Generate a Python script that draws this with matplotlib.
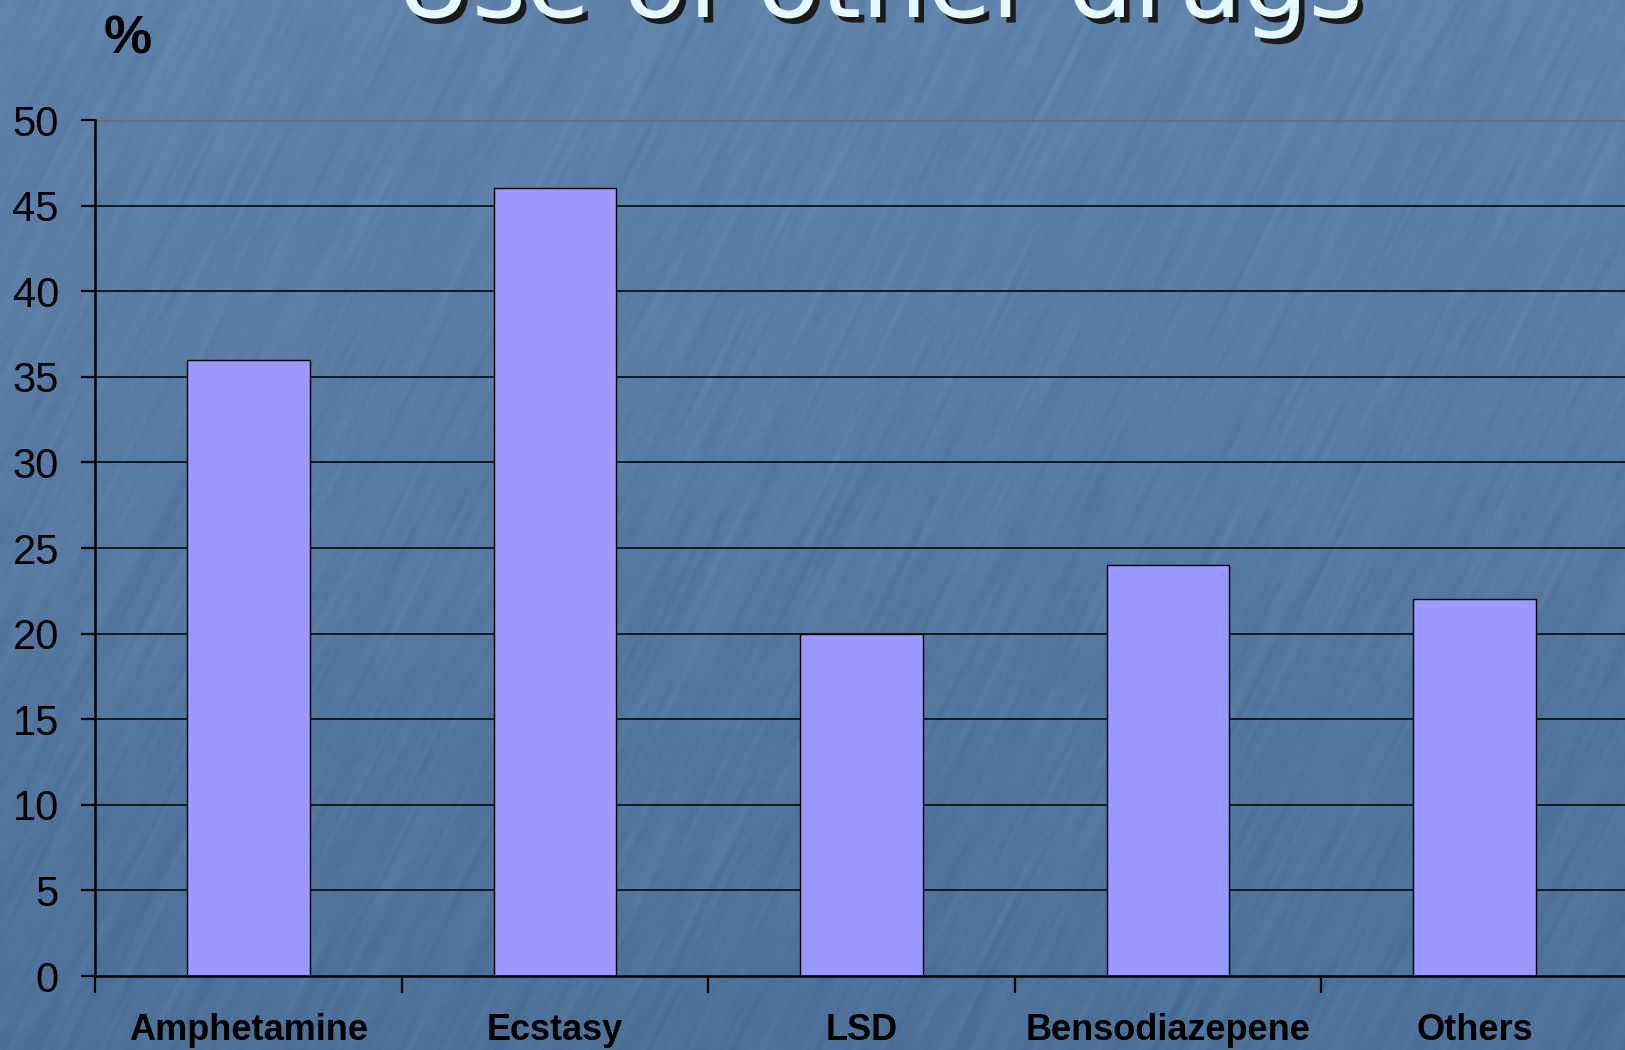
import numpy as np
import matplotlib.pyplot as plt
import matplotlib.patheffects as pe
from matplotlib.ticker import MultipleLocator, FixedLocator

drugs = ['Amphetamine', 'Ecstasy', 'LSD', 'Bensodiazepene', 'Others']
percent = [36, 46, 20, 24, 22]
yticks = [0, 5, 10, 15, 20, 25, 30, 35, 40, 45, 50]

W, H = 1625, 1050
fig = plt.figure(figsize=(W / 100, H / 100), dpi=100)

# slide background: blue with faint diagonal streaks
rng = np.random.default_rng(7)
h, w = H // 2, W // 2
noise = rng.standard_normal((h, w))
streak = np.zeros_like(noise)
for k in range(-12, 13):
    streak += np.roll(np.roll(noise, k, axis=1), -2 * k, axis=0)
streak /= streak.std()
soft = sum(np.roll(np.roll(streak, i, 0), j, 1) for i in (-1, 0, 1) for j in (-1, 0, 1)) / 9
base = np.array([88, 123, 163]) / 255
shade = np.linspace(0.03, -0.04, h)[:, None]
img = base[None, None, :] + shade[..., None] + 0.022 * soft[..., None]
img = np.clip(img, 0, 1)
bg = fig.add_axes([0, 0, 1, 1], zorder=0)
bg.imshow(img, aspect='auto', interpolation='bilinear', extent=[0, 1, 0, 1])
bg.axis('off')

# plot area
left, right = 95 / W, 1628 / W
bottom, top = 1 - 976 / H, 1 - 120 / H
ax = fig.add_axes([left, bottom, right - left, top - bottom], zorder=1)
ax.patch.set_alpha(0)

x = np.arange(len(drugs))
ax.set_xlim(-0.5, len(drugs) - 0.5)
ax.set_ylim(0, 50)

for yv in yticks[1:-1]:
    ax.axhline(yv, color='black', lw=1.1, zorder=1)
ax.axhline(50, color='#6e6e6e', lw=2.6, zorder=1)

ax.bar(x, percent, width=0.4, color='#9999FF', edgecolor='black', lw=1.0, zorder=2)

for side in ['top', 'right']:
    ax.spines[side].set_visible(False)
for side in ['left', 'bottom']:
    ax.spines[side].set_linewidth(1.8)
    ax.spines[side].set_zorder(3)

ax.yaxis.set_major_locator(FixedLocator(yticks))
ax.set_yticklabels([str(v) for v in yticks], fontsize=30, family='Liberation Sans')
ax.tick_params(axis='y', direction='out', length=10, width=1.6, pad=16)

ax.set_xticks(x)
ax.set_xticklabels(drugs, fontsize=26, fontweight='bold', family='Liberation Sans')
ax.tick_params(axis='x', which='major', length=0, pad=27)
ax.xaxis.set_minor_locator(MultipleLocator(1, offset=0.5))
ax.tick_params(axis='x', which='minor', direction='out', length=12, width=1.6)

fig.text(128 / W, 1 - 40 / H, '%', fontsize=39, fontweight='bold',
         family='Liberation Sans', ha='center', va='center')

fig.text(879 / W, 1 - 17 / H, 'Use of other drugs', fontsize=75,
         family='DejaVu Sans', color='#E4F8FF', ha='center', va='baseline',
         path_effects=[pe.SimplePatchShadow(offset=(4, -4), shadow_rgbFace='#1a1a1a', alpha=1.0),
                       pe.Normal()])

fig.savefig('out.png', dpi=100)
